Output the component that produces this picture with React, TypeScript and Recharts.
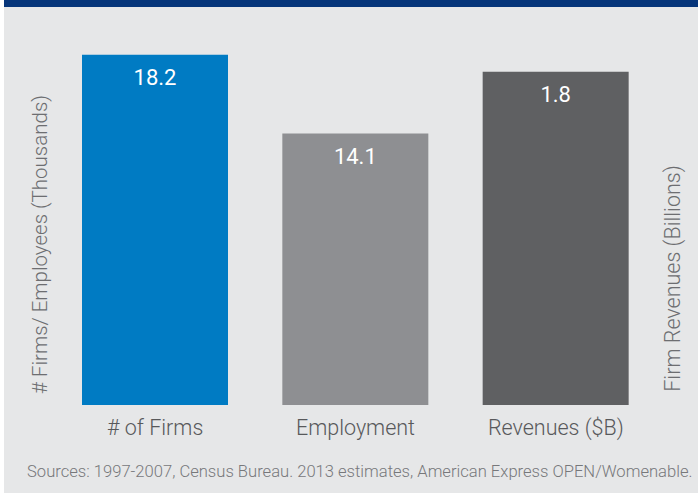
import { BarChart, Bar, XAxis, YAxis, Cell, LabelList } from "recharts";

const categories = ["# of Firms", "Employment", "Revenues ($B)"];
const thousands = [18.2, 14.1, null];
const billions = [null, null, 1.8];
const barColors = ["#007bc3", "#8e8f92", "#5f6062"];

const data = categories.map((name, i) => ({
  name,
  thousands: thousands[i],
  billions: billions[i],
}));

const font = "Roboto, 'Liberation Sans', sans-serif";

export default function App() {
  return (
    <div style={{ position: "absolute", left: 0, top: 0, width: 698, height: 494, background: "#fff" }}>
      <div
        style={{
          position: "absolute",
          left: 4,
          top: 0,
          width: 694,
          height: 493,
          background: "#e6e7e8",
          borderTop: "7px solid #06357a",
          boxSizing: "border-box",
        }}
      />
      <div style={{ position: "absolute", left: 0, top: 0 }}>
        <BarChart width={698} height={494} data={data} margin={{ top: 20, right: 0, bottom: 49, left: 0 }}>
          <XAxis
            xAxisId="a"
            dataKey="name"
            axisLine={false}
            tickLine={false}
            height={40}
            tick={{ fill: "#58595b", fontSize: 21.5, fontFamily: font, fontWeight: 300 }}
            dy={7}
          />
          <XAxis xAxisId="b" dataKey="name" hide />
          <YAxis
            yAxisId="left"
            domain={[0, 20]}
            width={55}
            tick={false}
            axisLine={false}
            tickLine={false}
            label={{
              value: "# Firms/ Employees (Thousands)",
              angle: -90,
              position: "center",
              dx: 12,
              dy: 32,
              style: { fill: "#6d6e71", fontSize: 20.5, fontFamily: font, fontWeight: 300 },
            }}
          />
          <YAxis
            yAxisId="right"
            orientation="right"
            domain={[0, 2.08]}
            width={42}
            tick={false}
            axisLine={false}
            tickLine={false}
            label={{
              value: "Firm Revenues (Billions)",
              angle: -90,
              position: "center",
              dx: -5,
              dy: 66,
              style: { fill: "#6d6e71", fontSize: 21.5, fontFamily: font, fontWeight: 300 },
            }}
          />
          <Bar xAxisId="a" yAxisId="left" dataKey="thousands" barSize={146} isAnimationActive={false}>
            {data.map((_, i) => (
              <Cell key={i} fill={barColors[i]} />
            ))}
            <LabelList dataKey="thousands" position="insideTop" offset={15} fill="#fff" fontSize={22} fontFamily={font} />
          </Bar>
          <Bar xAxisId="b" yAxisId="right" dataKey="billions" barSize={146} isAnimationActive={false}>
            {data.map((_, i) => (
              <Cell key={i} fill={barColors[i]} />
            ))}
            <LabelList dataKey="billions" position="insideTop" offset={15} fill="#fff" fontSize={22} fontFamily={font} />
          </Bar>
        </BarChart>
      </div>
      <div
        style={{
          position: "absolute",
          left: 27,
          top: 462,
          fontFamily: font,
          fontSize: 16.6,
          fontWeight: 300,
          color: "#77787b",
          whiteSpace: "nowrap",
        }}
      >
        Sources: 1997-2007, Census Bureau. 2013 estimates, American Express OPEN/Womenable.
      </div>
    </div>
  );
}
